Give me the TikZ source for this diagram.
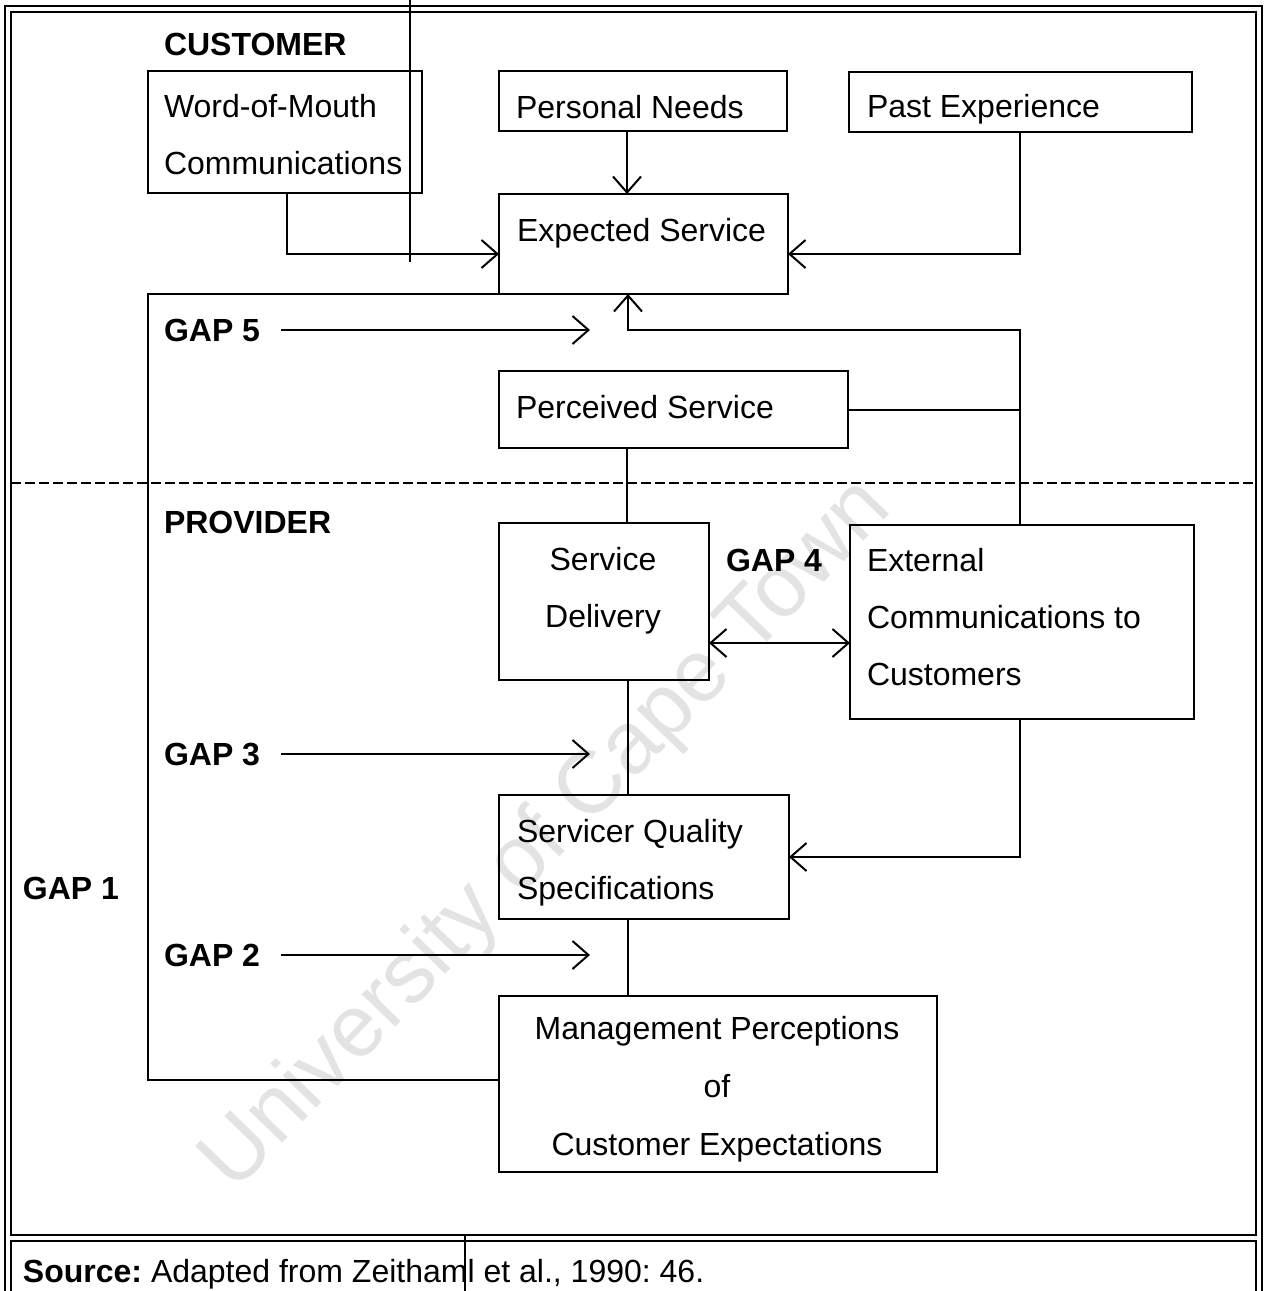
\documentclass[tikz,border=0pt]{standalone}
\usepackage{fontspec}
\setmainfont{Liberation Sans}
\usetikzlibrary{arrows.meta}
\frenchspacing
\begin{document}
\begin{tikzpicture}[x=0.5pt,y=-0.5pt,
  line width=1pt,
  box/.style={draw, rectangle, inner sep=0pt, outer sep=0pt, anchor=north west},
  txt/.style={anchor=base west, inner sep=0pt, font=\fontsize{16}{19}\selectfont},
  ctxt/.style={anchor=base, inner sep=0pt, font=\fontsize{16}{19}\selectfont},
  head/.style={txt, font=\fontsize{16}{19}\selectfont\bfseries},
  tip/.style={-{Straight Barb[length=8pt,width=14pt,line width=1pt]}},
  twotip/.style={{Straight Barb[length=8pt,width=14pt,line width=1pt]}-{Straight Barb[length=8pt,width=14pt,line width=1pt]}}]
\clip (0,0) rectangle (1267,1291);
\useasboundingbox (0,0) rectangle (1267,1291);

% watermark
\node[rotate=46, text=black!11, font=\fontsize{44}{50}\selectfont] (wm) at (548,836) {University of Cape Town};

% frames
\draw (5,6) rectangle (1262,1320);
\draw (11,12) rectangle (1256,1235);
\draw (11,1241) rectangle (1256,1320);
\draw[dashed, dash pattern=on 5pt off 2pt, line width=0.8pt] (11,483) -- (1256,483);
% fold marks
\draw[line width=0.6pt] (410,0) -- (410,262);
\draw[line width=0.6pt] (465,1236) -- (465,1291);

% boxes (sizes in pt = pixels/2)
\node[box, minimum width=137pt, minimum height=61pt] (wom) at (148,71) {};
\node[box, minimum width=144pt, minimum height=30pt] (pn) at (499,71) {};
\node[box, minimum width=171.5pt, minimum height=30pt] (pe) at (849,72) {};
\node[box, minimum width=144.5pt, minimum height=50pt] (es) at (499,194) {};
\node[box, minimum width=174.5pt, minimum height=38.5pt] (ps) at (499,371) {};
\node[box, minimum width=105pt, minimum height=78.5pt] (sd) at (499,523) {};
\node[box, minimum width=172pt, minimum height=97pt] (ec) at (850,525) {};
\node[box, minimum width=145pt, minimum height=62pt] (sq) at (499,795) {};
\node[box, minimum width=219pt, minimum height=88pt] (mp) at (499,996) {};

% texts
\node[head] (tcust) at (163,55) {CUSTOMER};
\node[txt] (twom1) at (163,117) {Word-of-Mouth};
\node[txt] (twom2) at (163,174) {Communications};
\node[txt] (tpn) at (515,118) {Personal Needs};
\node[txt] (tpe) at (866,117) {Past Experience};
\node[txt] (tes) at (516,241) {Expected Service};
\node[head] (g5) at (163,341) {GAP 5};
\node[txt] (tps) at (515,418) {Perceived Service};
\node[head] (tprov) at (163,533) {PROVIDER};
\node[ctxt] (tsd1) at (603,570) {Service};
\node[ctxt] (tsd2) at (603,627) {Delivery};
\node[head] (g4) at (725,571) {GAP 4};
\node[txt] (tec1) at (866,571) {External};
\node[txt] (tec2) at (866,628) {Communications to};
\node[txt] (tec3) at (866,685) {Customers};
\node[head] (g3) at (163,765) {GAP 3};
\node[txt] (tsq1) at (516,842) {Servicer Quality};
\node[txt] (tsq2) at (516,899) {Specifications};
\node[head] (g1) at (22,899) {GAP 1};
\node[head] (g2) at (163,966) {GAP 2};
\node[ctxt] (tmp1) at (717,1039) {Management Perceptions};
\node[ctxt] (tmp2) at (717,1097) {of};
\node[ctxt] (tmp3) at (717,1155) {Customer Expectations};
\node[txt] (src) at (22,1282) {\textbf{Source:} Adapted from Zeithaml et al., 1990: 46.};

% junction points
\coordinate (j5) at (628,330);
\coordinate (jr) at (1020,330);
\coordinate (g5e) at (590,330);
\coordinate (g3e) at (590,754);
\coordinate (g2e) at (590,955);

% customer side connectors
\draw[tip] (wom.south west -| 287,0) |- (es.west |- 0,254);
\draw[tip] (pn.south west -| 627,0) -- (es.north west -| 627,0);
\draw[tip] (pe.south west -| 1020,0) |- (es.east |- 0,254);
\draw[tip] (ec.north west -| 1020,0) -- (jr) -- (j5) -- (es.south west -| 628,0);
\draw (ps.east) -- (ps.east -| jr);
\draw (ps.south west -| 627,0) -- (sd.north west -| 627,0);

% provider side connectors
\draw (sd.south west -| 628,0) -- (sq.north west -| 628,0);
\draw[twotip] (sd.east |- 0,643) -- (ec.west |- 0,643);
\draw[tip] (ec.south west -| 1020,0) |- (sq.east |- 0,857);
\draw (sq.south west -| 628,0) -- (mp.north west -| 628,0);
\draw (mp.west |- 0,1080) -| (148,294) -- (es.south west);

% gap arrows
\draw[tip] (g5.east |- 0,330) ++(20,0) -- (g5e);
\draw[tip] (g3.east |- 0,754) ++(20,0) -- (g3e);
\draw[tip] (g2.east |- 0,955) ++(20,0) -- (g2e);
\end{tikzpicture}
\end{document}
